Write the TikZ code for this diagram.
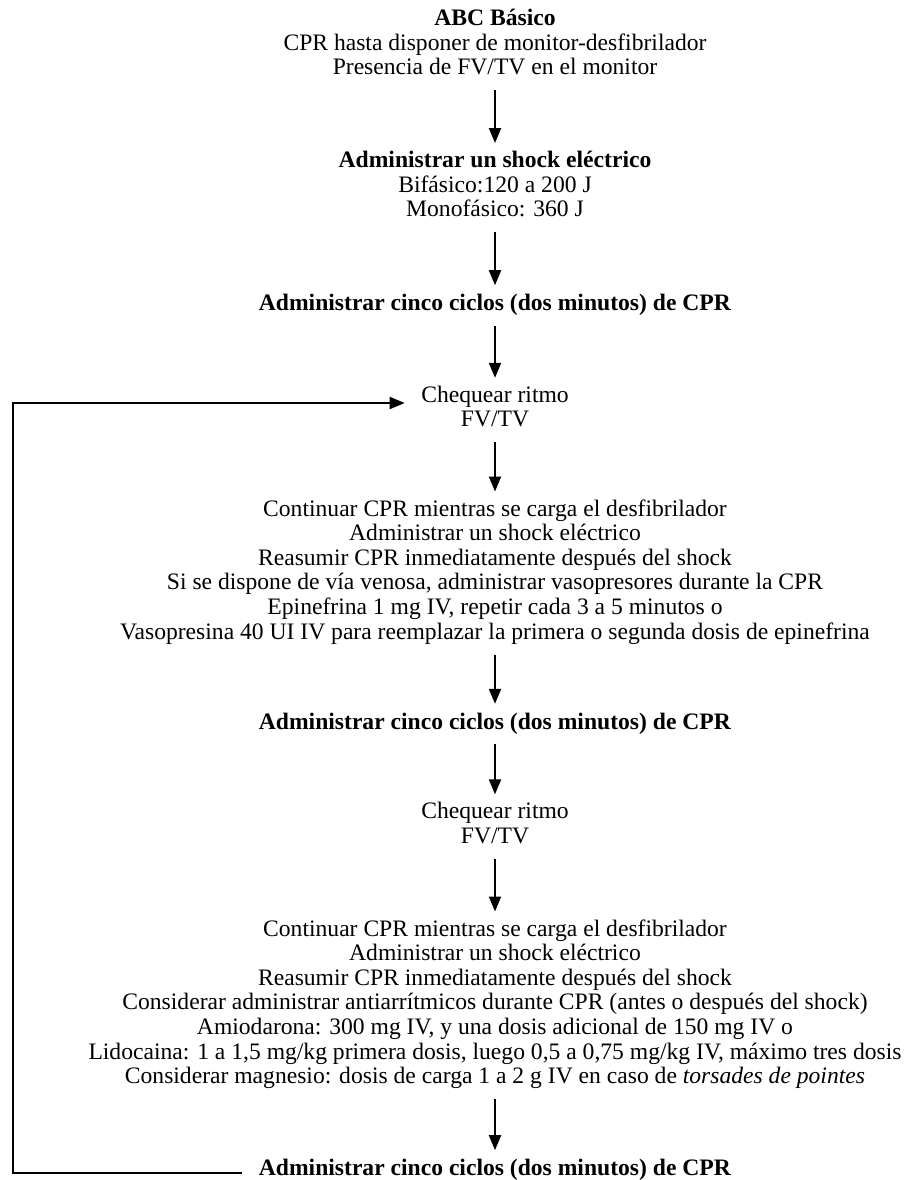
\documentclass[tikz,border=0pt]{standalone}
\usepackage{fontspec}
\setmainfont{Liberation Serif}
\usepackage{tikz}
\usetikzlibrary{arrows.meta, calc}
\tikzstyle{tx}=[%
      align=center, inner sep=4pt, outer sep=0pt,
      font=\fontsize{11.8}{12.3}\selectfont,
      execute at begin node=\strut, execute at end node=\strut
]
\tikzstyle{ar}=[%
      ->, line width=1pt
]

\begin{document}
\begin{tikzpicture}[x=0.5pt, y=-0.5pt,
    >={Triangle[length=7.5pt, width=6pt]}
  ]
    \useasboundingbox (0,0) rectangle (910,1180);

    \node[tx] (abc) at (495,45.7)  {\textbf{ABC Básico}\\CPR hasta disponer de monitor-desfibrilador\\Presencia de FV/TV en el monitor};
    \node[tx] (sh)  at (495,187.5) {\textbf{Administrar un shock eléctrico}\\Bifásico:120 a 200 J\\Monofásico: 360 J};
    \node[tx] (c1)  at (495,305.5) {\textbf{Administrar cinco ciclos (dos minutos) de CPR}};
    \node[tx] (r1)  at (495,410)   {Chequear ritmo\\FV/TV};
    \node[tx] (v1)  at (495,573)   {Continuar CPR mientras se carga el desfibrilador\\
        Administrar un shock eléctrico\\
        Reasumir CPR inmediatamente después del shock\\
        Si se dispone de vía venosa, administrar vasopresores durante la CPR\\
        Epinefrina 1 mg IV, repetir cada 3 a 5 minutos o\\
        Vasopresina 40 UI IV para reemplazar la primera o segunda dosis de epinefrina};
    \node[tx] (c2)  at (495,724.1) {\textbf{Administrar cinco ciclos (dos minutos) de CPR}};
    \node[tx] (r2)  at (495,826.5) {Chequear ritmo\\FV/TV};
    \node[tx] (v2)  at (495,1005.3) {Continuar CPR mientras se carga el desfibrilador\\
        Administrar un shock eléctrico\\
        Reasumir CPR inmediatamente después del shock\\
        Considerar administrar antiarrítmicos durante CPR (antes o después del shock)\\
        Amiodarona: 300 mg IV, y una dosis adicional de 150 mg IV o\\
        Lidocaina: 1 a 1,5 mg/kg primera dosis, luego 0,5 a 0,75 mg/kg IV, máximo tres dosis\\
        Considerar magnesio: dosis de carga 1 a 2 g IV en caso de \textit{torsades de pointes}};
    \node[tx] (c3)  at (495,1170.5) {\textbf{Administrar cinco ciclos (dos minutos) de CPR}};

    \path[ar] (abc) edge (sh)
          (sh)  edge (c1)
          (c1)  edge (r1)
          (r1)  edge (v1)
          (v1)  edge (c2)
          (c2)  edge (r2)
          (r2)  edge (v2)
          (v2)  edge (c3)
    ;

    % back to the rhythm check
    \coordinate (rail) at (13,0);
    \draw[ar, shorten <=4.3pt, shorten >=4.3pt]
        ([yshift=-1pt]c3.west) -- ([yshift=-1pt]c3.west -| rail) |- ([yshift=3.5pt]r1.west);
  \end{tikzpicture}
\end{document}
